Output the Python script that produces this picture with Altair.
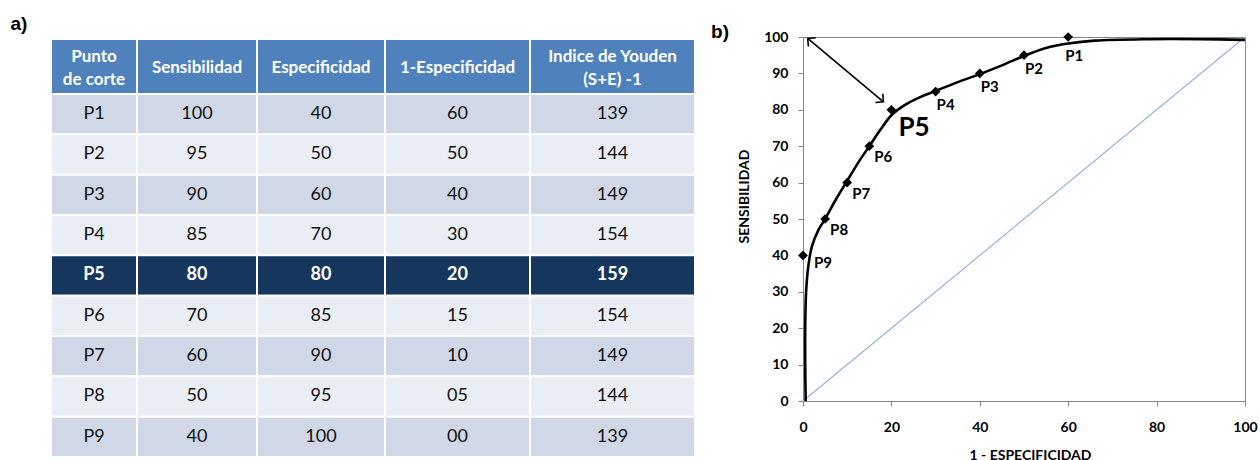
import altair as alt
import pandas as pd

# ---------------- data: table (a) ----------------
cut_points = ["P1", "P2", "P3", "P4", "P5", "P6", "P7", "P8", "P9"]
sensibilidad = ["100", "95", "90", "85", "80", "70", "60", "50", "40"]
especificidad = ["40", "50", "60", "70", "80", "85", "90", "95", "100"]
uno_menos_esp = ["60", "50", "40", "30", "20", "15", "10", "05", "00"]
youden = ["139", "144", "149", "154", "159", "154", "149", "144", "139"]
headers = ["Punto\nde corte", "Sensibilidad", "Especificidad",
           "1-Especificidad", "Indice de Youden\n(S+E) -1"]
highlight = "P5"

# ---------------- data: ROC curve (b) ----------------
roc_x = [60, 50, 40, 30, 20, 15, 10, 5, 0]
roc_y = [100, 95, 90, 85, 80, 70, 60, 50, 40]
curve_x = [0.6, 0.5, 0.5, 0.7, 1.2, 2.0, 3.5, 5.0, 7.5, 10, 12.5, 15, 17.5,
           20, 23, 26.5, 30, 35, 40, 45, 50, 55, 60, 66, 78, 90, 100]
curve_y = [0, 10, 20, 30, 37, 42.4, 47, 50, 55.5, 60.5, 65.5, 70, 74.5,
           78.5, 81.3, 83.5, 85.2, 87.6, 89.8, 92.2, 94.8, 97, 98.2, 99, 99.4,
           99.4, 99.2]
diag_x = [0, 100]
diag_y = [0, 100]
arrow_x = [1.06, 18.2]
arrow_y = [99.6, 82.2]
x_ticks = [0, 20, 40, 60, 80, 100]
y_ticks = [0, 10, 20, 30, 40, 50, 60, 70, 80, 90, 100]

# ---------------- layout / style constants ----------------
FONT = "Lato"
COL_W = [86, 120, 128, 145, 165]
LEFT = 51
HEAD_TOP, HEAD_BOT = 39, 94
ROW_H = 40.33
HEADER_FILL = "#4F81BD"
ODD_FILL = "#D0D8E8"
EVEN_FILL = "#E9EDF4"
HI_FILL = "#17365D"
GRAY = "#868686"

edges = [LEFT]
for w in COL_W:
    edges.append(edges[-1] + w)
columns = [cut_points, sensibilidad, especificidad, uno_menos_esp, youden]
cells = []
for c in range(5):
    hk = "header2" if "\n" in headers[c] else "header1"
    cells.append(dict(x0=edges[c], x1=edges[c + 1], y0=HEAD_TOP, y1=HEAD_BOT,
                      kind=hk, label=headers[c], fill=HEADER_FILL))
    for r in range(9):
        y0 = HEAD_BOT + r * ROW_H
        kind = "hi" if cut_points[r] == highlight else "body"
        fill = HI_FILL if kind == "hi" else (ODD_FILL if r % 2 == 0 else EVEN_FILL)
        cells.append(dict(x0=edges[c], x1=edges[c + 1], y0=y0, y1=y0 + ROW_H,
                          kind=kind, label=columns[c][r], fill=fill))
cells = pd.DataFrame(cells)
cells["xc"] = (cells.x0 + cells.x1) / 2
cells["yc"] = (cells.y0 + cells.y1) / 2

TW, TH = 700, 423
txs = alt.Scale(domain=[0, TW], nice=False, zero=False)
tys = alt.Scale(domain=[37, 460], nice=False, zero=False, reverse=True)

tbase = alt.Chart(cells)
rects = tbase.mark_rect(stroke="white", strokeWidth=2).encode(
    x=alt.X("x0:Q", scale=txs, axis=None), x2="x1:Q",
    y=alt.Y("y0:Q", scale=tys, axis=None), y2="y1:Q",
    fill=alt.Fill("fill:N", scale=None),
)
txt_enc = dict(x=alt.X("xc:Q", scale=txs, axis=None),
               y=alt.Y("yc:Q", scale=tys, axis=None),
               text="label:N")
head1_txt = tbase.transform_filter(alt.datum.kind == "header1").mark_text(
    font=FONT, fontSize=17, fontWeight="bold", color="white",
    baseline="middle", align="center", dy=1,
).encode(**txt_enc)
head2_txt = tbase.transform_filter(alt.datum.kind == "header2").mark_text(
    font=FONT, fontSize=17, fontWeight="bold", color="white",
    lineBreak="\n", lineHeight=23, baseline="middle", align="center", dy=-10,
).encode(**txt_enc)
body_txt = tbase.transform_filter(alt.datum.kind == "body").mark_text(
    font=FONT, fontSize=18, color="#111111", baseline="middle", align="center",
).encode(**txt_enc)
hi_txt = tbase.transform_filter(alt.datum.kind == "hi").mark_text(
    font=FONT, fontSize=18, fontWeight="bold", color="white",
    baseline="middle", align="center",
).encode(**txt_enc)
a_lbl = alt.Chart(pd.DataFrame({"t": ["a)"]})).mark_text(
    font="Liberation Sans", fontSize=19, fontWeight="bold", color="black",
    align="center", baseline="middle",
).encode(x=alt.value(19), y=alt.value(-13.5), text="t:N")

table = alt.layer(rects, head1_txt, head2_txt, body_txt, hi_txt, a_lbl).properties(
    width=TW, height=TH, view=alt.ViewBackground(stroke=None)
)

# ---------------- ROC chart ----------------
PW, PH = 442, 364
xs = alt.Scale(domain=[0, 100], nice=False, zero=False)
ys = alt.Scale(domain=[0, 100], nice=False, zero=False)
x_axis = alt.Axis(values=x_ticks, grid=False, labelFlush=False,
                  labelFont=FONT, labelFontSize=14, labelFontWeight="bold",
                  labelColor="black", tickSize=5, tickColor=GRAY,
                  domainColor=GRAY, labelPadding=14,
                  title="1 - ESPECIFICIDAD", titleFont=FONT, titleFontSize=14,
                  titleFontWeight="bold", titleColor="black",
                  titleX=227, titleY=58, titleBaseline="alphabetic")
y_axis = alt.Axis(values=y_ticks, grid=False, labelOverlap=False, labelFlush=False,
                  labelFont=FONT, labelFontSize=14, labelFontWeight="bold",
                  labelColor="black", tickSize=5, tickColor=GRAY,
                  domainColor=GRAY, labelPadding=10,
                  title="SENSIBILIDAD", titleFont=FONT, titleFontSize=14,
                  titleFontWeight="bold", titleColor="black",
                  titleX=-55, titleY=159, titleBaseline="alphabetic")


def X(field="x"):
    return alt.X(f"{field}:Q", scale=xs, axis=x_axis)


def Y(field="y"):
    return alt.Y(f"{field}:Q", scale=ys, axis=y_axis)


diag = alt.Chart(pd.DataFrame({"x": diag_x, "y": diag_y})).mark_line(
    color="#95B3D7", strokeWidth=1.2
).encode(x=X(), y=Y())

curve_df = pd.DataFrame({"x": curve_x, "y": curve_y, "i": range(len(curve_x))})
curve = alt.Chart(curve_df).mark_line(
    color="black", strokeWidth=2.6, interpolate="catmull-rom"
).encode(x=X(), y=Y(), order="i:Q")

arrow_df = pd.DataFrame({"x": [arrow_x[0]], "y": [arrow_y[0]],
                         "x2": [arrow_x[1]], "y2": [arrow_y[1]]})
arrow_line = alt.Chart(arrow_df).mark_rule(color="black", strokeWidth=1.6).encode(
    x=X(), y=Y(), x2="x2:Q", y2="y2:Q")
HEAD = "M -1 -1 L 0 0 L -1 1"
head_end = alt.Chart(pd.DataFrame({"x": [arrow_x[1]], "y": [arrow_y[1]]})).mark_point(
    shape=HEAD, filled=False, stroke="black", strokeWidth=1.6, size=130,
    angle=40, opacity=1
).encode(x=X(), y=Y())
head_start = alt.Chart(pd.DataFrame({"x": [arrow_x[0]], "y": [arrow_y[0]]})).mark_point(
    shape=HEAD, filled=False, stroke="black", strokeWidth=1.6, size=130,
    angle=220, opacity=1
).encode(x=X(), y=Y())

pts_df = pd.DataFrame({"x": roc_x, "y": roc_y, "label": cut_points})
pts_base = alt.Chart(pts_df)
pts = pts_base.mark_point(shape="diamond", filled=True, color="black",
                          size=95, opacity=1).encode(x=X(), y=Y())


def lbl(names, dx, dy, size=15):
    return pts_base.transform_filter(
        alt.FieldOneOfPredicate(field="label", oneOf=names)
    ).mark_text(font=FONT, fontSize=size, fontWeight="bold", color="black",
                align="left", baseline="middle", dx=dx, dy=dy).encode(
        x=X(), y=Y(), text="label:N")


lbl_mid = lbl(["P2", "P3", "P4"], 1, 13.5)
lbl_low = lbl(["P6", "P7", "P8"], 5, 11)
lbl_p1 = lbl(["P1"], -3, 19)
lbl_p9 = lbl(["P9"], 11, 8)
lbl_p5 = lbl(["P5"], 7, 18, size=26)

b_lbl = alt.Chart(pd.DataFrame({"t": ["b)"]})).mark_text(
    font="Liberation Sans", fontSize=19, fontWeight="bold", color="black",
    align="center", baseline="middle",
).encode(x=alt.value(-83), y=alt.value(-5), text="t:N")

roc = alt.layer(diag, curve, arrow_line, head_end, head_start, pts,
                lbl_mid, lbl_low, lbl_p1, lbl_p9, lbl_p5, b_lbl).properties(
    width=PW, height=PH, view=alt.ViewBackground(stroke=GRAY, strokeWidth=1)
)

chart = alt.hconcat(table, roc, spacing=10).properties(
    padding={"left": 0, "top": 14, "right": 0, "bottom": 0},
    background="white",
)

chart.save("out.html", embed_options={"renderer": "svg", "actions": False})
